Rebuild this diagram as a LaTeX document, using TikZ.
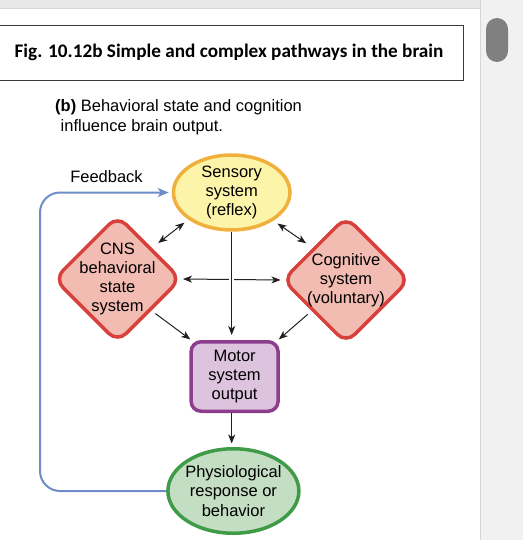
\documentclass[tikz,border=0pt]{standalone}
\usepackage{fontspec}
\setmainfont{Liberation Sans}
\newfontfamily\figfont{Carlito}
\usepackage{xcolor}
\usepackage{tikz}
\usetikzlibrary{
    calc,
    arrows.meta,
    shapes.geometric
}

\definecolor{sensfill}{HTML}{FCF4A8}
\definecolor{sensline}{HTML}{F0B03C}
\definecolor{statefill}{HTML}{F2BCB3}
\definecolor{stateline}{HTML}{D8403B}
\definecolor{motorfill}{HTML}{DDC3DE}
\definecolor{motorline}{HTML}{8C3E8D}
\definecolor{respfill}{HTML}{C3DEC2}
\definecolor{respline}{HTML}{3F9B47}
\definecolor{fbline}{HTML}{6D8CC8}
\definecolor{arrowcol}{HTML}{231F20}
\definecolor{titleline}{HTML}{3A3A3A}
\definecolor{barfill}{HTML}{E8E8E8}
\definecolor{barline}{HTML}{D6D6D6}
\definecolor{trackfill}{HTML}{F1F1F1}
\definecolor{thumbfill}{HTML}{808080}

\tikzset{
    nodetext/.style={font=\fontsize{16.5}{19.2}\selectfont, align=center, line width=3.5pt},
    sensory/.style={nodetext, ellipse, draw=sensline, fill=sensfill, inner sep=-3pt,
        minimum width=116.5pt, minimum height=75pt},
    statebox/.style={nodetext, diamond, rounded corners=12pt, draw=stateline, fill=statefill,
        inner sep=-6pt, minimum width=127.5pt, minimum height=127.5pt},
    motorbox/.style={nodetext, rectangle, rounded corners=10pt, draw=motorline, fill=motorfill,
        minimum width=87pt, minimum height=69.5pt},
    response/.style={nodetext, ellipse, draw=respline, fill=respfill, inner sep=-3pt,
        minimum width=131pt, minimum height=84.5pt},
    tag/.style={font=\fontsize{16.5}{19.2}\selectfont, inner sep=0pt},
    caption/.style={font=\fontsize{16.5}{20}\selectfont, align=left, anchor=north west, inner sep=0pt},
    titlebox/.style={draw=titleline, line width=0.8pt, minimum width=468pt, minimum height=55pt,
        font=\figfont\bfseries\fontsize{19.2}{22}\selectfont},
    arrowline/.style={line width=1pt, draw=arrowcol},
    feedback/.style={line width=2pt, draw=fbline, rounded corners=20pt,
        -{Stealth[length=11pt,width=9pt,inset=3pt]}}
}

\begin{document}
\begin{tikzpicture}[x=1pt, y=-1pt, >={Stealth[length=9pt,width=7pt,inset=2.5pt]}]
    \useasboundingbox (0,0) rectangle (523,540);
    % window frame
    \fill[barfill] (0,0) rectangle (480,8);
    \draw[barline] (0,8.5) -- (480,8.5);
    \fill[trackfill] (480,0) rectangle (523,540);
    \draw[barline] (480.5,0) -- (480.5,540);
    \fill[thumbfill, rounded corners=11pt] (486,18) rectangle (508,62);

    % heading
    \draw (229,52.5) node[titlebox](title){Fig. 10.12b Simple and complex pathways in the brain};
    \draw (55,99) node[caption](sub){\textbf{(b)} Behavioral state and cognition\\\hspace*{5.5pt}influence brain output.};

    % boxes
    \draw (231.7,192.5) node[sensory](sens){Sensory\\system\\(reflex)};
    \draw (117.5,279)   node[statebox](cns){CNS\\behavioral\\state\\system};
    \draw (346,280)     node[statebox](cogn){Cognitive\\system\\(voluntary)};
    \draw (234.6,376.5) node[motorbox](motor){Motor\\system\\output};
    \draw (233.4,491)   node[response](phys){Physiological\\response or\\behavior};
    \draw (106.5,177)   node[tag](fbtext){Feedback};

    % arrows
    \draw[arrowline, <->, shorten <=5pt, shorten >=8pt] (sens.212.6) to (cns.42.3);
    \draw[arrowline, <->, shorten <=5pt, shorten >=8pt] (sens.326)   to (cogn.136);
    \draw[arrowline, <->] (cns.east) to (cogn.west);
    \draw[arrowline, ->, shorten >=5pt,
        preaction={draw=white, line width=5pt, -, shorten <=4pt}] (sens.south) to (sens.south |- motor.north);
    \draw[arrowline, ->, shorten <=5pt, shorten >=1pt] (cns.317.6)  to (motor.140);
    \draw[arrowline, ->, shorten <=5pt, shorten >=1pt] (cogn.222.8) to (motor.40);
    \draw[arrowline, ->, shorten >=3.5pt] (motor.south -| sens) to (sens |- phys.north);

    % feedback loop
    \coordinate (fbturn) at (40,340);
    \draw[feedback, shorten >=3pt] (phys.west) -| (fbturn) |- (sens.west);
\end{tikzpicture}
\end{document}
